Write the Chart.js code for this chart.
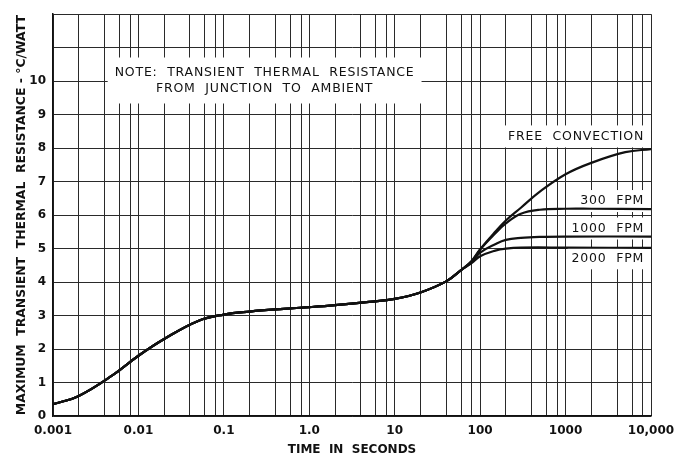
<!DOCTYPE html>
<html>
<head>
<meta charset="utf-8">
<script src="https://cdn.jsdelivr.net/npm/chart.js@4/dist/chart.umd.min.js"></script>
<style>
  body{margin:0;background:#fff;}
  #wrap{width:684px;height:459px;position:relative;}
</style>
</head>
<body>
<div id="wrap"><canvas id="thermChart"></canvas></div>
<script>
// shared part of the curve (before the cooling curves split)
const sharedTime = [0.001, 0.002, 0.005, 0.01, 0.02, 0.05, 0.1, 0.2, 0.5, 1, 2, 5, 10, 20, 40, 60];
const sharedRes  = [0.35, 0.6, 1.22, 1.8, 2.3, 2.84, 3.03, 3.12, 3.2, 3.25, 3.31, 3.41, 3.5, 3.69, 4.02, 4.36];

// branches after ~60 s
const freeTime = [80, 100, 150, 200, 300, 500, 1000, 2000, 5000, 10000];
const freeRes  = [4.64, 4.98, 5.5, 5.84, 6.22, 6.7, 7.22, 7.56, 7.88, 7.97];
const fpm300Time = [80, 100, 150, 200, 300, 500, 1000, 2000, 10000];
const fpm300Res  = [4.63, 4.97, 5.45, 5.75, 6.04, 6.16, 6.19, 6.19, 6.18];
const fpm1000Time = [80, 100, 150, 200, 300, 500, 1000, 10000];
const fpm1000Res  = [4.6, 4.88, 5.13, 5.26, 5.32, 5.35, 5.36, 5.36];
const fpm2000Time = [80, 100, 150, 200, 300, 1000, 10000];
const fpm2000Res  = [4.57, 4.77, 4.94, 5.0, 5.03, 5.03, 5.02];

const xTickValues = [0.001, 0.01, 0.1, 1, 10, 100, 1000, 10000];
const xTickLabels = ['0.001', '0.01', '0.1', '1.0', '10', '100', '1000', '10,000'];
const yTickLabels = ['0','1','2','3','4','5','6','7','8','9','10','',''];

// grid lines inside each decade
const minorSteps = [1, 2, 4, 6, 8];
const xGrid = [];
xTickValues.forEach((d, i) => {
    if (i === xTickValues.length - 1) { xGrid.push(d); return; }
    minorSteps.forEach(m => xGrid.push(+(d * m).toPrecision(3)));
});

// text notes on the plot (data coords)
const notes = [
    {lines: ['NOTE:  TRANSIENT  THERMAL  RESISTANCE', 'FROM  JUNCTION  TO  AMBIENT'], x: 0.3, y: 10.02, align: 'center', padX: 7, padY: 7},
    {lines: ['FREE  CONVECTION'], x: 8300, y: 8.35, align: 'right', padX: 4, padY: 3},
    {lines: ['300  FPM'], x: 8300, y: 6.42, align: 'right', padX: 4, padY: 3},
    {lines: ['1000  FPM'], x: 8300, y: 5.6, align: 'right', padX: 4, padY: 3},
    {lines: ['2000  FPM'], x: 8300, y: 4.71, align: 'right', padX: 4, padY: 3}
];

function toPoints(t1, r1, t2, r2){
    const ts = t1.concat(t2), rs = r1.concat(r2);
    return ts.map((t, i) => ({x: t, y: rs[i]}));
}

function curve(label, t, r){
    return {
        label: label,
        data: toPoints(sharedTime, sharedRes, t, r),
        borderColor: '#111',
        borderWidth: 2.2,
        pointRadius: 0,
        fill: false,
        tension: 0.4
    };
}

const notePlugin = {
    id: 'notes',
    beforeDatasetsDraw(chart){
        const ctx = chart.ctx;
        const xs = chart.scales.x, ys = chart.scales.y;
        ctx.save();
        ctx.font = '12.5px "DejaVu Sans"';
        ctx.letterSpacing = '0.8px';
        ctx.textBaseline = 'middle';
        notes.forEach(n => {
            const px = xs.getPixelForValue(n.x);
            const py = ys.getPixelForValue(n.y);
            const lh = 16;
            const w = Math.max(...n.lines.map(l => ctx.measureText(l).width));
            const h = lh * n.lines.length;
            let left = n.align === 'right' ? px - w : px - w / 2;
            ctx.fillStyle = '#fff';
            ctx.fillRect(left - n.padX, py - h / 2 - n.padY, w + n.padX * 2, h + n.padY * 2);
            ctx.fillStyle = '#111';
            ctx.textAlign = n.align;
            n.lines.forEach((l, i) => {
                ctx.fillText(l, px, py - h / 2 + lh * (i + 0.5));
            });
        });
        ctx.restore();
    }
};

const tickFont = {family: '"DejaVu Sans"', size: 12, weight: 'bold'};

new Chart(document.getElementById('thermChart'), {
    type: 'line',
    data: {
        datasets: [
            curve('Free convection', freeTime, freeRes),
            curve('300 FPM', fpm300Time, fpm300Res),
            curve('1000 FPM', fpm1000Time, fpm1000Res),
            curve('2000 FPM', fpm2000Time, fpm2000Res)
        ]
    },
    options: {
        responsive: true,
        maintainAspectRatio: false,
        animation: false,
        layout: {padding: {top: 13, right: 33, left: 0, bottom: 0}},
        plugins: {legend: {display: false}, tooltip: {enabled: false}},
        scales: {
            x: {
                type: 'logarithmic',
                min: 0.001,
                max: 10000,
                afterBuildTicks: s => { s.ticks = xGrid.map(v => ({value: v})); },
                afterFit: s => { s.height = 43; },
                grid: {color: '#2a2a2a', lineWidth: 1, drawTicks: false},
                border: {color: '#111', width: 1.5},
                ticks: {
                    autoSkip: false,
                    maxRotation: 0,
                    padding: 8,
                    color: '#111',
                    font: tickFont,
                    callback: v => {
                        const i = xTickValues.indexOf(v);
                        return i >= 0 ? xTickLabels[i] : '';
                    }
                },
                title: {
                    display: true,
                    text: 'TIME  IN  SECONDS',
                    color: '#111',
                    font: tickFont,
                    padding: {top: 0, bottom: 2}
                }
            },
            y: {
                min: 0,
                max: 12,
                afterFit: s => { s.width = 53; },
                grid: {color: '#2a2a2a', lineWidth: 1, drawTicks: false},
                border: {color: '#111', width: 1.5},
                ticks: {
                    stepSize: 1,
                    autoSkip: false,
                    padding: 7,
                    color: '#111',
                    font: tickFont,
                    callback: v => yTickLabels[v]
                },
                title: {
                    display: true,
                    text: 'MAXIMUM  TRANSIENT  THERMAL  RESISTANCE - °C/WATT',
                    color: '#111',
                    font: {family: '"DejaVu Sans"', size: 12.4, weight: 'bold'},
                    padding: {top: 14, bottom: 0}
                }
            }
        }
    },
    plugins: [notePlugin]
});
</script>
</body>
</html>
